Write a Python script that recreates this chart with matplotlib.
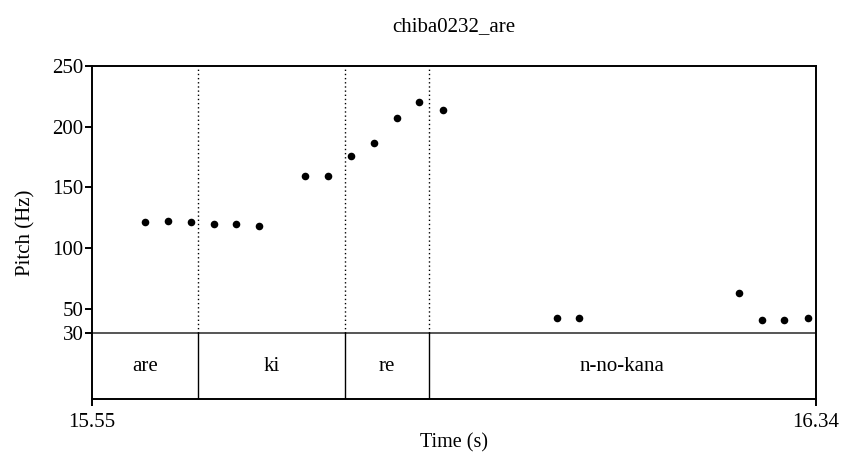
import numpy as np
import matplotlib.pyplot as plt

plt.rcParams['font.family'] = ['Liberation Serif', 'DejaVu Serif']
plt.rcParams['font.size'] = 15

# данные по высоте тона
times = [15.608, 15.633, 15.658, 15.683, 15.708, 15.733, 15.783, 15.808,
         15.833, 15.858, 15.883, 15.907, 15.933,
         16.058, 16.082, 16.257, 16.282, 16.306, 16.332]
pitch = [121.4, 122.2, 121.4, 119.5, 119.5, 117.9, 159.3, 159.3,
         175.8, 186.8, 207.1, 220.3, 213.5,
         42.1, 42.6, 62.7, 40.7, 40.7, 42.6]

# разметка (границы интервалов и подписи)
bounds = [15.55, 15.666, 15.826, 15.918, 16.34]
labels = ['are', 'ki', 're', 'n-no-kana']

tmin, tmax = 15.55, 16.34
fmin, fmax = 30, 250
tier_h = 54.4  # высота полосы разметки в единицах Гц

fig = plt.figure(figsize=(8.41, 4.55), dpi=100)
ax = fig.add_axes([0.109, 0.123, 0.8607, 0.732])

ax.scatter(times, pitch, s=30, color='black', zorder=3, linewidths=0)

# граница между графиком и полосой разметки
ax.axhline(fmin, color='#555555', lw=1.4)

for b in bounds[1:-1]:
    ax.plot([b, b], [fmin, fmax], color='black', lw=1.0, ls=(0, (1, 2)))
    ax.plot([b, b], [fmin - tier_h, fmin], color='black', lw=1.0)

for i, lab in enumerate(labels):
    ax.text((bounds[i] + bounds[i + 1]) / 2, fmin - tier_h / 2, lab,
            ha='center', va='center', fontsize=15)

ax.set_xlim(tmin, tmax)
ax.set_ylim(fmin - tier_h, fmax)
ax.set_xticks([tmin, tmax])
ax.set_xticklabels(['15.55', '16.34'])
ax.set_yticks([30, 50, 100, 150, 200, 250])
ax.tick_params(axis='y', direction='out', length=5, width=1.4, labelsize=15, pad=1)
ax.tick_params(axis='x', direction='out', length=5, width=1.4, labelsize=15, pad=5)
for sp in ax.spines.values():
    sp.set_linewidth(1.4)

ax.set_xlabel('Time (s)', fontsize=14.5, labelpad=1)
ax.set_ylabel('Pitch (Hz)', fontsize=15, labelpad=12)
ax.set_title('chiba0232_are', fontsize=15, pad=25)

plt.savefig('out.png', dpi=100)
